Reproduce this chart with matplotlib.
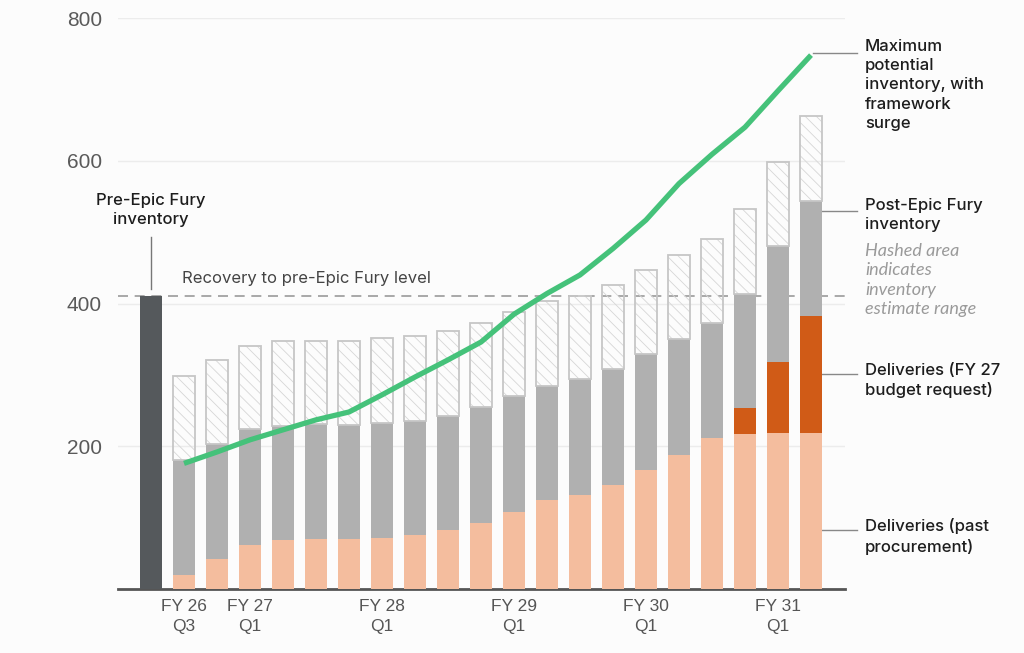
import matplotlib
matplotlib.use("Agg")
import matplotlib.pyplot as plt
import numpy as np

# ----------------------------
# Data
# ----------------------------
pre_epic_inventory = 410

quarters = [
    "FY26 Q3", "FY26 Q4", "FY27 Q1", "FY27 Q2", "FY27 Q3", "FY27 Q4",
    "FY28 Q1", "FY28 Q2", "FY28 Q3", "FY28 Q4", "FY29 Q1", "FY29 Q2",
    "FY29 Q3", "FY29 Q4", "FY30 Q1", "FY30 Q2", "FY30 Q3", "FY30 Q4",
    "FY31 Q1", "FY31 Q2",
]
past_procurement = [20, 42, 62, 68, 70, 70, 72, 75, 82, 93,
                    108, 124, 132, 146, 167, 188, 211, 217, 218, 218]
budget_request = [0, 0, 0, 0, 0, 0, 0, 0, 0, 0,
                  0, 0, 0, 0, 0, 0, 0, 36, 100, 165]
post_epic_low = [181, 203, 224, 229, 231, 230, 233, 236, 243, 255,
                 270, 285, 294, 308, 329, 350, 372, 414, 480, 544]
post_epic_high = [298, 321, 341, 347, 348, 348, 351, 354, 361, 372,
                  388, 403, 411, 426, 447, 468, 490, 533, 598, 662]
max_potential = [176, 192, 209, 223, 237, 248, 272, 297, 321, 346,
                 385, 414, 440, 477, 517, 568, 609, 647, 698, 748]

tick_quarters = ["FY26 Q3", "FY27 Q1", "FY28 Q1", "FY29 Q1", "FY30 Q1", "FY31 Q1"]
tick_labels = ["FY 26\nQ3", "FY 27\nQ1", "FY 28\nQ1", "FY 29\nQ1", "FY 30\nQ1", "FY 31\nQ1"]

# ----------------------------
# Styling
# ----------------------------
BG = "#fcfcfc"
DARK = "#55595c"
GRAY = "#b0b0b0"
PEACH = "#f4bd9e"
ORANGE = "#d05b17"
GREEN = "#45c27a"
HATCH = "#d6d6d6"
OUTLINE = "#c6c6c6"
TEXT = "#1d1d1d"
ANNOT_FONT = ["Inter", "DejaVu Sans"]
ANNOT_SIZE = 12

W, H = 1024, 653
plt.rcParams["hatch.linewidth"] = 0.6


def fx(px):
    return px / W


def fy(py):
    return 1 - py / H


fig = plt.figure(figsize=(W / 100, H / 100), dpi=100, facecolor=BG)
ax = fig.add_axes([fx(118), fy(589), (845 - 118) / W, (589 - 18) / H])
ax.set_facecolor(BG)

x = np.arange(1, len(quarters) + 1)
past = np.array(past_procurement)
budget = np.array(budget_request)
low = np.array(post_epic_low)
high = np.array(post_epic_high)
width = 0.667

# pre-Epic Fury bar
ax.bar(0, pre_epic_inventory, width=width, color=DARK, zorder=3)

# stacked bars
ax.bar(x, past, width=width, color=PEACH, zorder=3)
ax.bar(x, budget, width=width, bottom=past, color=ORANGE, zorder=3)
ax.bar(x, low - past - budget, width=width, bottom=past + budget, color=GRAY, zorder=3)
ax.bar(x, high - low, width=width, bottom=low, facecolor="none",
       edgecolor=HATCH, hatch="\\\\\\", linewidth=0, zorder=3)
ax.bar(x, high - low, width=width, bottom=low, facecolor="none",
       edgecolor=OUTLINE, linewidth=1.3, zorder=3)

# maximum potential inventory
ax.plot(x, max_potential, color=GREEN, linewidth=3.8, solid_capstyle="butt", zorder=4)

# recovery line
ax.axhline(pre_epic_inventory, color="#9a9a9a", linewidth=1.2,
           linestyle=(0, (6, 4)), zorder=2)
ax.text(0.95, 425, "Recovery to pre-Epic Fury level", fontsize=12,
        color="#444444", family=ANNOT_FONT, va="bottom", ha="left")

# axes
ax.set_xlim(-1, 21.03)
ax.set_ylim(0, 800)
ax.set_yticks([200, 400, 600, 800])
ax.yaxis.grid(True, color="#ececec", linewidth=1, zorder=0)
ax.set_axisbelow(True)
for s in ["top", "right", "left"]:
    ax.spines[s].set_visible(False)
ax.spines["bottom"].set_color("#555555")
ax.spines["bottom"].set_linewidth(2)
ax.tick_params(axis="y", length=0, pad=11.5, labelsize=15, labelcolor="#5a5a5a")
ax.tick_params(axis="x", length=0, pad=7.5)
for lab in ax.get_yticklabels():
    lab.set_family(["Liberation Sans", "DejaVu Sans"])

ax.set_xticks([x[quarters.index(q)] for q in tick_quarters])
ax.set_xticklabels(tick_labels, fontsize=12.5, color="#555555",
                   family=["Liberation Sans", "DejaVu Sans"], linespacing=1.42)

# left annotation
fig.text(fx(151), fy(210), "Pre-Epic Fury\ninventory", ha="center", va="center",
         fontsize=ANNOT_SIZE, color=TEXT, family=ANNOT_FONT, weight="medium",
         linespacing=1.37)
ax.plot([0, 0], [493, 420], color="#777777", linewidth=1, clip_on=False)

# right annotations with leader lines
lead_x0 = x[-1] + width / 2
lead_x1 = 21.39
ax.plot([x[-1] + 0.05, lead_x1], [max_potential[-1] + 3] * 2, color="#888888", lw=1, clip_on=False)
ax.plot([lead_x0, lead_x1], [530, 530], color="#888888", lw=1, clip_on=False)
ax.plot([lead_x0, lead_x1], [301, 301], color="#888888", lw=1, clip_on=False)
ax.plot([lead_x0, lead_x1], [83, 83], color="#888888", lw=1, clip_on=False)

tx = fx(865)
labels = [
    (85, "Maximum\npotential\ninventory, with\nframework\nsurge"),
    (215, "Post-Epic Fury\ninventory"),
    (380.5, "Deliveries (FY 27\nbudget request)"),
    (536.5, "Deliveries (past\nprocurement)"),
]
for ypx, txt in labels:
    fig.text(tx, fy(ypx), txt, va="center", ha="left", fontsize=ANNOT_SIZE,
             color=TEXT, family=ANNOT_FONT, weight="medium", linespacing=1.37)
fig.text(tx, fy(280), "Hashed area\nindicates\ninventory\nestimate range",
         va="center", ha="left", fontsize=13, color="#9a9a9a", style="italic",
         family=["Lato", "DejaVu Sans"], linespacing=1.26)

fig.savefig("out.png", dpi=100, facecolor=BG)
